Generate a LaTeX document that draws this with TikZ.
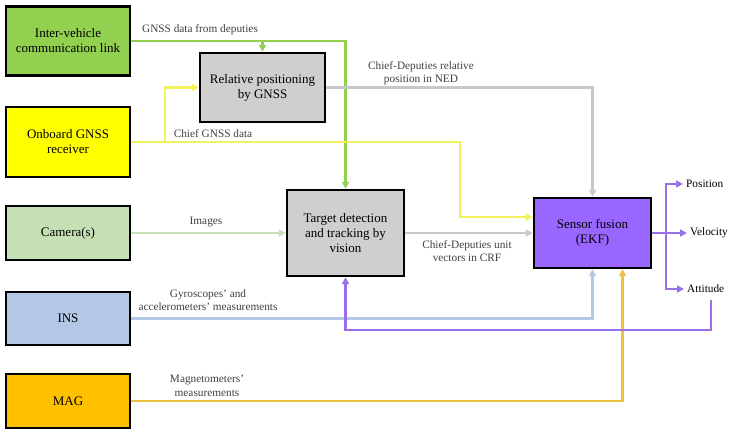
\documentclass[tikz,border=0pt]{standalone}
\usepackage{fontspec}
\setmainfont{Liberation Serif}
\usetikzlibrary{arrows.meta}
\definecolor{cgreen}{HTML}{92D050}
\definecolor{cyellow}{HTML}{FFFF00}
\definecolor{lyellow}{HTML}{F2F25A}
\definecolor{ccam}{HTML}{C5E0B4}
\definecolor{cins}{HTML}{B4C7E7}
\definecolor{cmag}{HTML}{FFC000}
\definecolor{lmag}{HTML}{EDC040}
\definecolor{cgray}{HTML}{D0CECE}
\definecolor{lgray}{HTML}{C8C8C8}
\definecolor{cekf}{HTML}{9966FF}
\definecolor{lpurple}{HTML}{9A70E8}
\definecolor{ctext}{HTML}{404040}
\begin{document}
\begin{tikzpicture}[>={Triangle[length=7pt,width=7pt]},x=1pt,y=-1pt,font=\fontsize{13}{15}\selectfont,
	blok/.style={draw=black,line width=2.4pt,align=center,inner sep=2pt},
	lbl/.style={text=ctext,font=\fontsize{11.3}{13.5}\selectfont,align=center,inner sep=0pt},
	wire/.style={line width=2.6pt}]
	\useasboundingbox (0,0) rectangle (732,435);
	% input boxes
	\node[blok,fill=cgreen,minimum width=124pt,minimum height=69pt] (ivc) at (68,41) {Inter-vehicle\\communication link};
	\node[blok,fill=cyellow,minimum width=124pt,minimum height=70pt] (gnss) at (68,142) {Onboard GNSS\\receiver};
	\node[blok,fill=ccam,minimum width=124pt,minimum height=54pt] (cam) at (68,233) {Camera(s)};
	\node[blok,fill=cins,minimum width=124pt,minimum height=53pt] (ins) at (68,318.5) {INS};
	\node[blok,fill=cmag,minimum width=124pt,minimum height=54pt] (mag) at (68,401) {MAG};
	% processing boxes
	\node[blok,fill=cgray,minimum width=125pt,minimum height=69pt] (relpos) at (262.5,87.5) {Relative positioning\\by GNSS};
	\node[blok,fill=cgray,minimum width=117pt,minimum height=86pt] (track) at (345.5,233) {Target detection\\and tracking by\\vision};
	\node[blok,fill=cekf,minimum width=117pt,minimum height=70pt] (ekf) at (592.5,233) {Sensor fusion\\(EKF)};
	% outputs
	\node[anchor=west,font=\fontsize{11.3}{13}\selectfont,inner sep=0pt] (pos) at (686,184) {Position};
	\node[anchor=west,font=\fontsize{11.3}{13}\selectfont,inner sep=0pt] (vel) at (690,233) {Velocity};
	\node[anchor=west,font=\fontsize{11.3}{13}\selectfont,inner sep=0pt] (att) at (687,289) {Attitude};
	\coordinate (ybend) at (460,142);
	\coordinate (ybr) at (165,142);
	\coordinate (bus) at (666,233);
	\coordinate (fbtop) at (711,300);
	\coordinate (fbbot) at (711,330);
	% connectors
	\draw[wire,cgreen,->] (ivc.east) -| (track.north);
	\draw[wire,cgreen,->] (relpos.north |- ivc.east) -- (relpos.north);
	\draw[wire,lyellow,->] (gnss.east) -- (ybend) |- ([yshift=16pt]ekf.west);
	\draw[wire,lyellow,->] (ybr) |- (relpos.west);
	\draw[wire,lgray,->] (relpos.east) -| (ekf.north);
	\draw[wire,ccam,->] (cam.east) -- (track.west);
	\draw[wire,lgray,->] (track.east) -- (ekf.west);
	\draw[wire,cins,->] (ins.east) -| (ekf.south);
	\draw[wire,lmag,->] (mag.east) -| ([xshift=30pt]ekf.south);
	\draw[wire,lpurple] (ekf.east) -- (bus);
	\draw[wire,lpurple,->] (bus) -- ([xshift=-3pt]vel.west);
	\draw[wire,lpurple,->] (bus) |- ([xshift=-3pt]pos.west);
	\draw[wire,lpurple,->] (bus) |- ([xshift=-3pt]att.west);
	\draw[wire,lpurple,->] (fbtop) -- (fbbot) -| (track.south);
	% labels
	\node[lbl] (l1) at (200,30) {GNSS data from deputies};
	\node[lbl] (l2) at (213,134) {Chief GNSS data};
	\node[lbl] (l3) at (421,73) {Chief-Deputies relative\\position in NED};
	\node[lbl] (l4) at (206,222) {Images};
	\node[lbl] (l5) at (467,251) {Chief-Deputies unit\\vectors in CRF};
	\node[lbl] (l6) at (208,300) {Gyroscopes' and\\accelerometers' measurements};
	\node[lbl] (l7) at (207,386) {Magnetometers'\\measurements};
\end{tikzpicture}
\end{document}
